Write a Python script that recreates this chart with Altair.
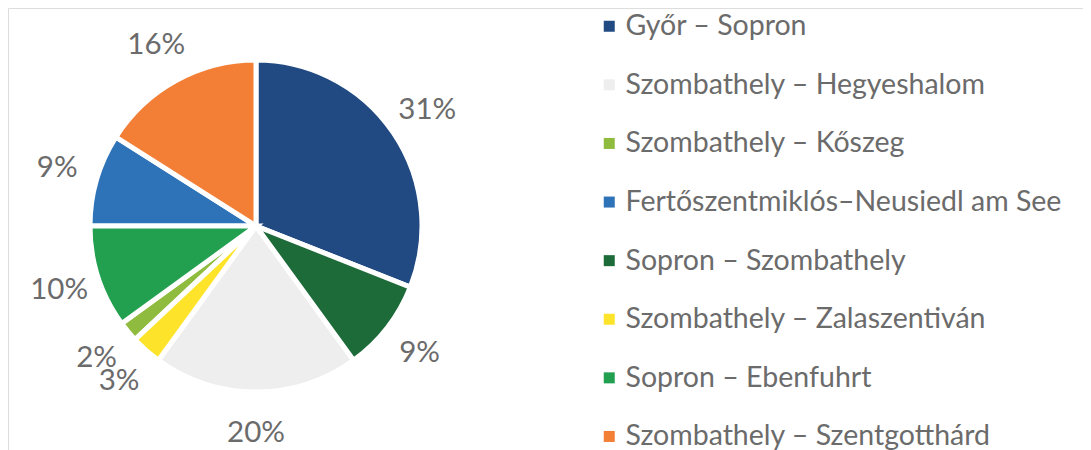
import altair as alt
import pandas as pd

routes = [
    "Győr – Sopron",
    "Szombathely – Hegyeshalom",
    "Szombathely – Kőszeg",
    "Fertőszentmiklós–Neusiedl am See",
    "Sopron – Szombathely",
    "Szombathely – Zalaszentiván",
    "Sopron – Ebenfuhrt",
    "Szombathely – Szentgotthárd",
]
shares = [31, 20, 2, 9, 9, 3, 10, 16]
pie_order = [1, 3, 5, 7, 2, 4, 6, 8]
colors = ["#214A82", "#EEEEEE", "#8FBC3F", "#2E72B8", "#1E6B3A", "#FDE42A", "#22A050", "#F37F37"]

df = pd.DataFrame({"route": routes, "share": shares, "ord": pie_order})
df["label"] = df["share"].astype(str) + "%"

FONT = "Lato"
GRAY = "#6B6B6B"

base = alt.Chart(df).encode(
    theta=alt.Theta("share:Q", stack=True),
    order=alt.Order("ord:Q"),
    x=alt.value(248),
    y=alt.value(218),
)

arcs = base.mark_arc(outerRadius=166, stroke="white", strokeWidth=5).encode(
    color=alt.Color(
        "route:N",
        scale=alt.Scale(domain=routes, range=colors),
        sort=routes,
        legend=alt.Legend(
            title=None,
            orient="none",
            legendX=587,
            legendY=4,
            symbolType="square",
            symbolSize=121,
            symbolStrokeWidth=0,
            labelFont=FONT,
            labelFontSize=28.5,
            labelColor=GRAY,
            labelLimit=600,
            labelOffset=2,
            rowPadding=29.6,
        ),
    )
)

labels = base.mark_text(radius=207, font=FONT, fontSize=29.5, color=GRAY).encode(
    text="label:N"
)

chart = (
    alt.layer(arcs, labels)
    .properties(width=1075, height=442, autosize=alt.AutoSizeParams(type="none"), padding=0)
    .configure_view(strokeWidth=0)
    .configure(background="white")
)

chart.save("out.html", embed_options={"renderer": "svg", "actions": False})
